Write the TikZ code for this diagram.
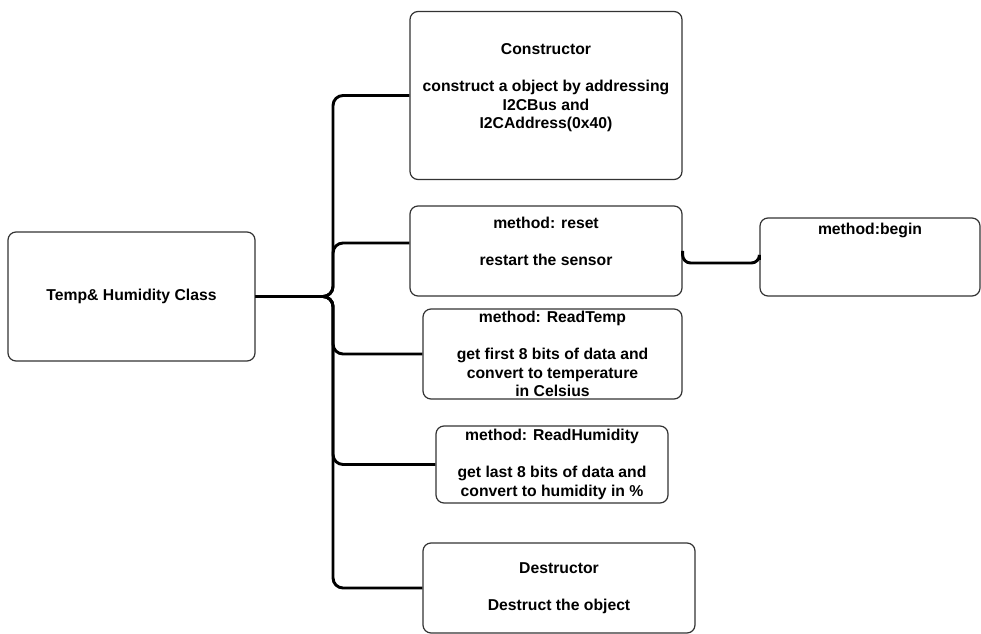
\documentclass[tikz,border=0pt]{standalone}
\usepackage{fontspec}
\setmainfont{Liberation Sans}
\begin{document}
\begin{tikzpicture}[x=0.75pt,y=-0.75pt,
  box/.style={draw=black!80,line width=0.9pt,rounded corners=6pt,fill=white,
    align=center,inner sep=0pt,
    font=\fontsize{11.8}{13.9}\selectfont\bfseries},
  conn/.style={draw=black,line width=2.2pt,rounded corners=7.5pt}]
\useasboundingbox (0,0) rectangle (981,634);
% boxes (centre, size)
\node[box,minimum width=247*0.75pt,minimum height=129*0.75pt] (cls) at (131.5,296.5) {Temp\& Humidity Class};
\node[box,minimum width=272*0.75pt,minimum height=168*0.75pt] (ctor) at (546,95.5) {Constructor\\ \mbox{}\\ construct a object by addressing\\ I2CBus and\\ I2CAddress(0x40)\\ \mbox{}};
\node[box,minimum width=272*0.75pt,minimum height=90*0.75pt] (reset) at (546,251) {method: reset\\ \mbox{}\\ restart the sensor\\ \mbox{}};
\node[box,minimum width=220*0.75pt,minimum height=78*0.75pt] (begin) at (870,257) {method:begin\\ \mbox{}\\ \mbox{}\\ \mbox{}};
\node[box,minimum width=259*0.75pt,minimum height=90*0.75pt] (rtemp) at (552.5,354) {method: ReadTemp\\ \mbox{}\\ get first 8 bits of data and\\ convert to temperature\\ in Celsius};
\node[box,minimum width=232*0.75pt,minimum height=77*0.75pt] (rhum) at (552,464.5) {method: ReadHumidity\\ \mbox{}\\ get last 8 bits of data and\\ convert to humidity in \%};
\node[box,minimum width=272*0.75pt,minimum height=90*0.75pt] (dtor) at (559,588) {Destructor\\ \mbox{}\\ Destruct the object};
% connectors
\coordinate (j) at (333,296.5);
\draw[conn] (cls.east) -- (j) |- (ctor.west);
\draw[conn] (cls.east) -- (j) |- ([yshift=8*0.75pt]reset.west);
\draw[conn] (cls.east) -- (j) |- (rtemp.west);
\draw[conn] (cls.east) -- (j) |- (rhum.west);
\draw[conn] (cls.east) -- (j) |- (dtor.west);
\coordinate (r1) at (reset.east);
\coordinate (b1) at ([yshift=-3*0.75pt]begin.west);
\draw[conn,rounded corners=6pt] (r1) -- ([yshift=-12*0.75pt]r1) -- ([yshift=-12*0.75pt]r1 -| b1) -- (b1);
\end{tikzpicture}
\end{document}
